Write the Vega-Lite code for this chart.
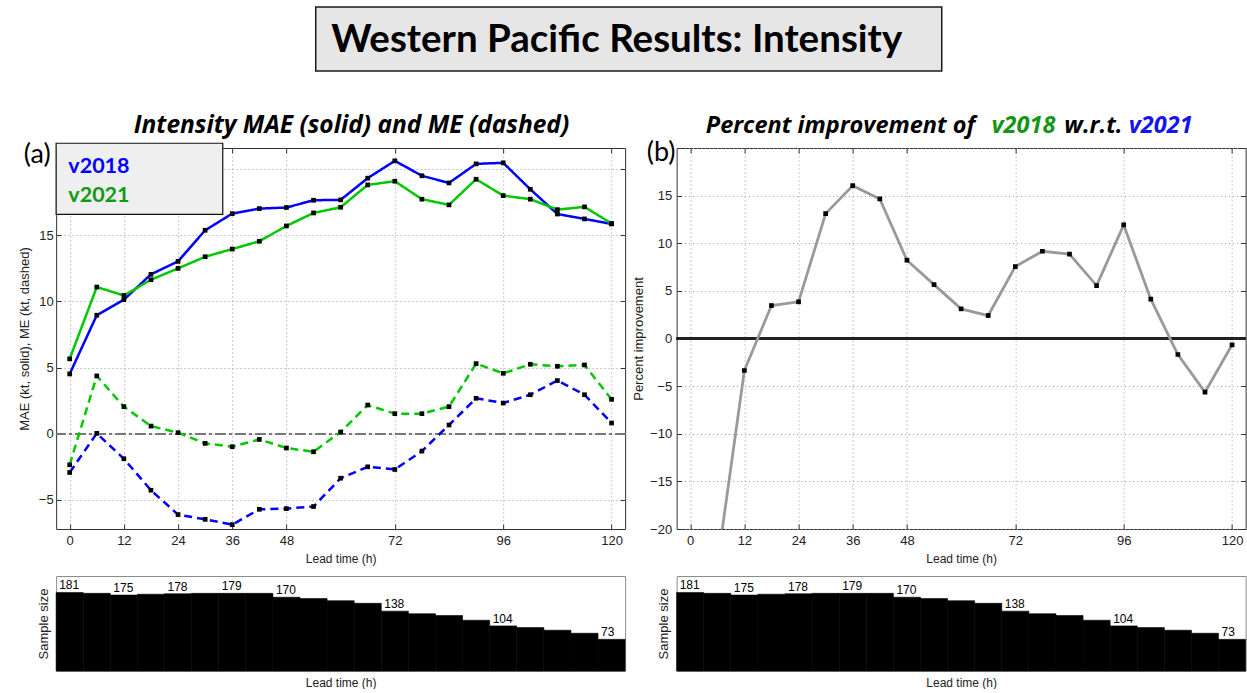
{
  "$schema": "https://vega.github.io/schema/vega-lite/v6.json",
  "background": "white",
  "padding": {"left": 17, "top": 6, "right": 0, "bottom": 0},
  "config": {
    "font": "Liberation Sans",
    "view": {"stroke": "#333333", "strokeWidth": 1},
    "axis": {
      "labelFont": "Liberation Sans", "titleFont": "Liberation Sans",
      "labelColor": "#222222", "titleColor": "#222222", "titleFontWeight": "normal",
      "labelFontSize": 13, "titleFontSize": 13, "domain": false,
      "tickColor": "#333333", "gridColor": "#9a9a9a", "gridDash": [1, 3], "gridWidth": 1
    }
  },
  "datasets": {
    "err": [
      {"lead": 0, "version": "v2018", "metric": "MAE", "value": 4.52},
      {"lead": 6, "version": "v2018", "metric": "MAE", "value": 8.96},
      {"lead": 12, "version": "v2018", "metric": "MAE", "value": 10.13},
      {"lead": 18, "version": "v2018", "metric": "MAE", "value": 12.05},
      {"lead": 24, "version": "v2018", "metric": "MAE", "value": 13.03},
      {"lead": 30, "version": "v2018", "metric": "MAE", "value": 15.38},
      {"lead": 36, "version": "v2018", "metric": "MAE", "value": 16.64},
      {"lead": 42, "version": "v2018", "metric": "MAE", "value": 17.02},
      {"lead": 48, "version": "v2018", "metric": "MAE", "value": 17.10},
      {"lead": 54, "version": "v2018", "metric": "MAE", "value": 17.65},
      {"lead": 60, "version": "v2018", "metric": "MAE", "value": 17.68},
      {"lead": 66, "version": "v2018", "metric": "MAE", "value": 19.32},
      {"lead": 72, "version": "v2018", "metric": "MAE", "value": 20.63},
      {"lead": 78, "version": "v2018", "metric": "MAE", "value": 19.50},
      {"lead": 84, "version": "v2018", "metric": "MAE", "value": 18.96},
      {"lead": 90, "version": "v2018", "metric": "MAE", "value": 20.40},
      {"lead": 96, "version": "v2018", "metric": "MAE", "value": 20.48},
      {"lead": 102, "version": "v2018", "metric": "MAE", "value": 18.48},
      {"lead": 108, "version": "v2018", "metric": "MAE", "value": 16.61},
      {"lead": 114, "version": "v2018", "metric": "MAE", "value": 16.24},
      {"lead": 120, "version": "v2018", "metric": "MAE", "value": 15.86},
      {"lead": 0, "version": "v2021", "metric": "MAE", "value": 5.66},
      {"lead": 6, "version": "v2021", "metric": "MAE", "value": 11.09},
      {"lead": 12, "version": "v2021", "metric": "MAE", "value": 10.45},
      {"lead": 18, "version": "v2021", "metric": "MAE", "value": 11.64},
      {"lead": 24, "version": "v2021", "metric": "MAE", "value": 12.50},
      {"lead": 30, "version": "v2021", "metric": "MAE", "value": 13.38},
      {"lead": 36, "version": "v2021", "metric": "MAE", "value": 13.96},
      {"lead": 42, "version": "v2021", "metric": "MAE", "value": 14.55},
      {"lead": 48, "version": "v2021", "metric": "MAE", "value": 15.71},
      {"lead": 54, "version": "v2021", "metric": "MAE", "value": 16.69},
      {"lead": 60, "version": "v2021", "metric": "MAE", "value": 17.12},
      {"lead": 66, "version": "v2021", "metric": "MAE", "value": 18.81},
      {"lead": 72, "version": "v2021", "metric": "MAE", "value": 19.09},
      {"lead": 78, "version": "v2021", "metric": "MAE", "value": 17.73},
      {"lead": 84, "version": "v2021", "metric": "MAE", "value": 17.30},
      {"lead": 90, "version": "v2021", "metric": "MAE", "value": 19.24},
      {"lead": 96, "version": "v2021", "metric": "MAE", "value": 18.00},
      {"lead": 102, "version": "v2021", "metric": "MAE", "value": 17.73},
      {"lead": 108, "version": "v2021", "metric": "MAE", "value": 16.94},
      {"lead": 114, "version": "v2021", "metric": "MAE", "value": 17.15},
      {"lead": 120, "version": "v2021", "metric": "MAE", "value": 15.89},
      {"lead": 0, "version": "v2018", "metric": "ME", "value": -2.93},
      {"lead": 6, "version": "v2018", "metric": "ME", "value": 0.03},
      {"lead": 12, "version": "v2018", "metric": "ME", "value": -1.89},
      {"lead": 18, "version": "v2018", "metric": "ME", "value": -4.27},
      {"lead": 24, "version": "v2018", "metric": "ME", "value": -6.11},
      {"lead": 30, "version": "v2018", "metric": "ME", "value": -6.47},
      {"lead": 36, "version": "v2018", "metric": "ME", "value": -6.87},
      {"lead": 42, "version": "v2018", "metric": "ME", "value": -5.71},
      {"lead": 48, "version": "v2018", "metric": "ME", "value": -5.66},
      {"lead": 54, "version": "v2018", "metric": "ME", "value": -5.50},
      {"lead": 60, "version": "v2018", "metric": "ME", "value": -3.36},
      {"lead": 66, "version": "v2018", "metric": "ME", "value": -2.50},
      {"lead": 72, "version": "v2018", "metric": "ME", "value": -2.70},
      {"lead": 78, "version": "v2018", "metric": "ME", "value": -1.31},
      {"lead": 84, "version": "v2018", "metric": "ME", "value": 0.66},
      {"lead": 90, "version": "v2018", "metric": "ME", "value": 2.68},
      {"lead": 96, "version": "v2018", "metric": "ME", "value": 2.32},
      {"lead": 102, "version": "v2018", "metric": "ME", "value": 2.95},
      {"lead": 108, "version": "v2018", "metric": "ME", "value": 4.02},
      {"lead": 114, "version": "v2018", "metric": "ME", "value": 2.95},
      {"lead": 120, "version": "v2018", "metric": "ME", "value": 0.81},
      {"lead": 0, "version": "v2021", "metric": "ME", "value": -2.35},
      {"lead": 6, "version": "v2021", "metric": "ME", "value": 4.37},
      {"lead": 12, "version": "v2021", "metric": "ME", "value": 2.05},
      {"lead": 18, "version": "v2021", "metric": "ME", "value": 0.58},
      {"lead": 24, "version": "v2021", "metric": "ME", "value": 0.08},
      {"lead": 30, "version": "v2021", "metric": "ME", "value": -0.73},
      {"lead": 36, "version": "v2021", "metric": "ME", "value": -0.98},
      {"lead": 42, "version": "v2021", "metric": "ME", "value": -0.43},
      {"lead": 48, "version": "v2021", "metric": "ME", "value": -1.08},
      {"lead": 54, "version": "v2021", "metric": "ME", "value": -1.36},
      {"lead": 60, "version": "v2021", "metric": "ME", "value": 0.13},
      {"lead": 66, "version": "v2021", "metric": "ME", "value": 2.17},
      {"lead": 72, "version": "v2021", "metric": "ME", "value": 1.52},
      {"lead": 78, "version": "v2021", "metric": "ME", "value": 1.52},
      {"lead": 84, "version": "v2021", "metric": "ME", "value": 2.05},
      {"lead": 90, "version": "v2021", "metric": "ME", "value": 5.30},
      {"lead": 96, "version": "v2021", "metric": "ME", "value": 4.57},
      {"lead": 102, "version": "v2021", "metric": "ME", "value": 5.25},
      {"lead": 108, "version": "v2021", "metric": "ME", "value": 5.10},
      {"lead": 114, "version": "v2021", "metric": "ME", "value": 5.20},
      {"lead": 120, "version": "v2021", "metric": "ME", "value": 2.60}
    ],
    "pct": [
      {"lead": 0, "pct": -25.2}, {"lead": 6, "pct": -23.8}, {"lead": 12, "pct": -3.36},
      {"lead": 18, "pct": 3.46}, {"lead": 24, "pct": 3.85}, {"lead": 30, "pct": 13.11},
      {"lead": 36, "pct": 16.05}, {"lead": 42, "pct": 14.65}, {"lead": 48, "pct": 8.22},
      {"lead": 54, "pct": 5.66}, {"lead": 60, "pct": 3.11}, {"lead": 66, "pct": 2.41},
      {"lead": 72, "pct": 7.55}, {"lead": 78, "pct": 9.16}, {"lead": 84, "pct": 8.85},
      {"lead": 90, "pct": 5.56}, {"lead": 96, "pct": 11.92}, {"lead": 102, "pct": 4.13},
      {"lead": 108, "pct": -1.68}, {"lead": 114, "pct": -5.63}, {"lead": 120, "pct": -0.66}
    ],
    "n": [
      {"lead": 0, "n": 181}, {"lead": 6, "n": 179}, {"lead": 12, "n": 175},
      {"lead": 18, "n": 177}, {"lead": 24, "n": 178}, {"lead": 30, "n": 179},
      {"lead": 36, "n": 179}, {"lead": 42, "n": 179}, {"lead": 48, "n": 170},
      {"lead": 54, "n": 167}, {"lead": 60, "n": 162}, {"lead": 66, "n": 156},
      {"lead": 72, "n": 138}, {"lead": 78, "n": 132}, {"lead": 84, "n": 128},
      {"lead": 90, "n": 117}, {"lead": 96, "n": 104}, {"lead": 102, "n": 100},
      {"lead": 108, "n": 94}, {"lead": 114, "n": 87}, {"lead": 120, "n": 73}
    ]
  },
  "center": true,
  "spacing": 40,
  "resolve": {"scale": {"color": "independent", "strokeDash": "independent"}},
  "vconcat": [
    {
      "width": 626, "height": 64,
      "view": {"fill": "#e6e6e6", "stroke": "#1a1a1a", "strokeWidth": 1.5},
      "data": {"values": [{"title": "Western Pacific Results: Intensity"}]},
      "layer": [
        {
          "mark": {"type": "text", "font": "Lato", "fontWeight": "bold", "fontSize": 38.5, "color": "black", "align": "center", "baseline": "middle", "dx": -12, "dy": 1},
          "encoding": {"text": {"field": "title"}}
        },
        {
          "mark": {"type": "text", "align": "left", "dx": 355, "opacity": 0, "fontSize": 10},
          "encoding": {"text": {"value": "."}}
        }
      ]
    },
    {
      "columns": 2,
      "bounds": "flush",
      "spacing": {"row": 47, "column": 51.5},
      "resolve": {"scale": {"color": "independent", "strokeDash": "independent"}},
      "concat": [
        {
          "width": 569, "height": 381,
          "data": {"name": "err"},
          "resolve": {"axis": {"x": "independent", "y": "independent"}},
          "layer": [
            {
              "mark": {"type": "rule", "color": "#777777", "strokeDash": [10, 4, 2, 4], "strokeWidth": 1},
              "encoding": {"y": {"datum": 0, "type": "quantitative", "scale": {"domain": [-7.2, 21.6], "nice": false, "zero": false}, "axis": null}}
            },
            {
              "mark": {"type": "line", "strokeWidth": 2.5},
              "encoding": {
                "x": {"field": "lead", "type": "quantitative", "scale": {"domain": [-3, 123], "nice": false, "zero": false},
                      "axis": {"values": [0, 12, 24, 36, 48, 72, 96, 120], "title": "Lead time (h)", "titleFontSize": 12, "grid": true, "tickSize": -5, "labelPadding": 10.5, "titlePadding": 6}},
                "y": {"field": "value", "type": "quantitative", "scale": {"domain": [-7.2, 21.6], "nice": false, "zero": false},
                      "axis": {"values": [-5, 0, 5, 10, 15, 20], "labelExpr": "datum.value == 20 ? '' : datum.label", "title": "MAE (kt, solid), ME (kt, dashed)", "grid": true, "tickSize": -5, "labelPadding": 8, "titlePadding": 7}},
                "color": {"field": "version", "type": "nominal", "scale": {"domain": ["v2018", "v2021"], "range": ["#0000ff", "#00c800"]}, "legend": null},
                "strokeDash": {"field": "metric", "type": "nominal", "scale": {"domain": ["MAE", "ME"], "range": [[1, 0], [8, 5]]}, "legend": null}
              }
            },
            {
              "mark": {"type": "point", "shape": "square", "filled": true, "color": "black", "size": 22, "opacity": 1},
              "encoding": {
                "x": {"field": "lead", "type": "quantitative", "scale": {"domain": [-3, 123], "nice": false, "zero": false},
                      "axis": {"orient": "top", "values": [0, 12, 24, 36, 48, 72, 96, 120], "labels": false, "title": null, "grid": false, "tickSize": -5}},
                "y": {"field": "value", "type": "quantitative", "scale": {"domain": [-7.2, 21.6], "nice": false, "zero": false},
                      "axis": {"orient": "right", "values": [-5, 0, 5, 10, 15, 20], "labels": false, "title": null, "grid": false, "tickSize": -5}}
              }
            },
            {
              "data": {"values": [{"box": "legend"}]},
              "mark": {"type": "rect", "fill": "#efefef", "stroke": "#111111", "strokeWidth": 1.2},
              "encoding": {
                "x": {"datum": -3, "type": "quantitative", "scale": {"domain": [-3, 123], "nice": false, "zero": false}, "axis": null},
                "x2": {"datum": 33.9},
                "y": {"datum": 21.96, "type": "quantitative", "scale": {"domain": [-7.2, 21.6], "nice": false, "zero": false}, "axis": null},
                "y2": {"datum": 16.59}
              }
            },
            {
              "data": {"values": [{"t": "v2018"}]},
              "mark": {"type": "text", "font": "Lato", "fontSize": 21.5, "fontWeight": "bold", "color": "#0000ff", "align": "left", "baseline": "alphabetic"},
              "encoding": {
                "text": {"field": "t"},
                "x": {"datum": -0.3, "type": "quantitative", "scale": {"domain": [-3, 123], "nice": false, "zero": false}, "axis": null},
                "y": {"datum": 19.73, "type": "quantitative", "scale": {"domain": [-7.2, 21.6], "nice": false, "zero": false}, "axis": null}
              }
            },
            {
              "data": {"values": [{"t": "v2021"}]},
              "mark": {"type": "text", "font": "Lato", "fontSize": 21.5, "fontWeight": "bold", "color": "#119911", "align": "left", "baseline": "alphabetic"},
              "encoding": {
                "text": {"field": "t"},
                "x": {"datum": -0.3, "type": "quantitative", "scale": {"domain": [-3, 123], "nice": false, "zero": false}, "axis": null},
                "y": {"datum": 17.54, "type": "quantitative", "scale": {"domain": [-7.2, 21.6], "nice": false, "zero": false}, "axis": null}
              }
            },
            {
              "data": {"values": [{"t": "(a)"}]},
              "mark": {"type": "text", "font": "Lato", "fontSize": 27, "color": "black", "align": "center", "baseline": "middle"},
              "encoding": {
                "text": {"field": "t"},
                "x": {"datum": -7.2, "type": "quantitative", "scale": {"domain": [-3, 123], "nice": false, "zero": false}, "axis": null},
                "y": {"datum": 21.07, "type": "quantitative", "scale": {"domain": [-7.2, 21.6], "nice": false, "zero": false}, "axis": null}
              }
            },
            {
              "data": {"values": [{"t": "Intensity MAE (solid) and ME (dashed)"}]},
              "mark": {"type": "text", "font": "Open Sans", "fontSize": 24.5, "fontStyle": "italic", "fontWeight": "bold", "color": "black", "align": "center", "baseline": "alphabetic"},
              "encoding": {
                "text": {"field": "t"},
                "x": {"datum": 62.4, "type": "quantitative", "scale": {"domain": [-3, 123], "nice": false, "zero": false}, "axis": null},
                "y": {"datum": 22.76, "type": "quantitative", "scale": {"domain": [-7.2, 21.6], "nice": false, "zero": false}, "axis": null}
              }
            }
          ]
        },
        {
          "width": 569, "height": 381,
          "data": {"name": "pct"},
          "resolve": {"axis": {"x": "independent", "y": "independent"}},
          "layer": [
            {
              "mark": {"type": "rule", "color": "#222222", "strokeWidth": 1.5},
              "encoding": {"y": {"datum": 0, "type": "quantitative", "scale": {"domain": [-20, 20], "nice": false, "zero": false}, "axis": null}}
            },
            {
              "mark": {"type": "line", "color": "#999999", "strokeWidth": 2.8, "clip": true},
              "encoding": {
                "x": {"field": "lead", "type": "quantitative", "scale": {"domain": [-3, 123], "nice": false, "zero": false},
                      "axis": {"values": [0, 12, 24, 36, 48, 72, 96, 120], "title": "Lead time (h)", "titleFontSize": 12, "grid": true, "tickSize": -5, "labelPadding": 10.5, "titlePadding": 6}},
                "y": {"field": "pct", "type": "quantitative", "scale": {"domain": [-20, 20], "nice": false, "zero": false},
                      "axis": {"values": [-20, -15, -10, -5, 0, 5, 10, 15, 20], "labelExpr": "datum.value == 20 ? '' : datum.label", "title": "Percent improvement", "grid": true, "tickSize": -5, "labelPadding": 10, "titlePadding": 4}}
              }
            },
            {
              "mark": {"type": "point", "shape": "square", "filled": true, "color": "black", "size": 22, "opacity": 1, "clip": true},
              "encoding": {
                "x": {"field": "lead", "type": "quantitative", "scale": {"domain": [-3, 123], "nice": false, "zero": false},
                      "axis": {"orient": "top", "values": [0, 12, 24, 36, 48, 72, 96, 120], "labels": false, "title": null, "grid": false, "tickSize": -5}},
                "y": {"field": "pct", "type": "quantitative", "scale": {"domain": [-20, 20], "nice": false, "zero": false},
                      "axis": {"orient": "right", "values": [-20, -15, -10, -5, 0, 5, 10, 15, 20], "labels": false, "title": null, "grid": false, "tickSize": -5}}
              }
            },
            {
              "data": {"values": [{"t": "(b)"}]},
              "mark": {"type": "text", "font": "Lato", "fontSize": 27, "color": "black", "align": "center", "baseline": "middle"},
              "encoding": {
                "text": {"field": "t"},
                "x": {"datum": -6.43, "type": "quantitative", "scale": {"domain": [-3, 123], "nice": false, "zero": false}, "axis": null},
                "y": {"datum": 19.5, "type": "quantitative", "scale": {"domain": [-20, 20], "nice": false, "zero": false}, "axis": null}
              }
            },
            {
              "data": {"values": [{"t": "Percent improvement of"}]},
              "mark": {"type": "text", "font": "Open Sans", "fontSize": 23.5, "fontStyle": "italic", "fontWeight": "bold", "color": "black", "align": "center", "baseline": "alphabetic"},
              "encoding": {
                "text": {"field": "t"},
                "x": {"datum": 33.3, "type": "quantitative", "scale": {"domain": [-3, 123], "nice": false, "zero": false}, "axis": null},
                "y": {"datum": 21.57, "type": "quantitative", "scale": {"domain": [-20, 20], "nice": false, "zero": false}, "axis": null}
              }
            },
            {
              "data": {"values": [{"t": "v2018"}]},
              "mark": {"type": "text", "font": "Open Sans", "fontSize": 23.5, "fontStyle": "italic", "fontWeight": "bold", "color": "#149614", "align": "center", "baseline": "alphabetic"},
              "encoding": {
                "text": {"field": "t"},
                "x": {"datum": 73.8, "type": "quantitative", "scale": {"domain": [-3, 123], "nice": false, "zero": false}, "axis": null},
                "y": {"datum": 21.57, "type": "quantitative", "scale": {"domain": [-20, 20], "nice": false, "zero": false}, "axis": null}
              }
            },
            {
              "data": {"values": [{"t": "w.r.t."}]},
              "mark": {"type": "text", "font": "Open Sans", "fontSize": 23.5, "fontStyle": "italic", "fontWeight": "bold", "color": "black", "align": "center", "baseline": "alphabetic"},
              "encoding": {
                "text": {"field": "t"},
                "x": {"datum": 89.3, "type": "quantitative", "scale": {"domain": [-3, 123], "nice": false, "zero": false}, "axis": null},
                "y": {"datum": 21.57, "type": "quantitative", "scale": {"domain": [-20, 20], "nice": false, "zero": false}, "axis": null}
              }
            },
            {
              "data": {"values": [{"t": "v2021"}]},
              "mark": {"type": "text", "font": "Open Sans", "fontSize": 23.5, "fontStyle": "italic", "fontWeight": "bold", "color": "#1414f0", "align": "center", "baseline": "alphabetic"},
              "encoding": {
                "text": {"field": "t"},
                "x": {"datum": 104.2, "type": "quantitative", "scale": {"domain": [-3, 123], "nice": false, "zero": false}, "axis": null},
                "y": {"datum": 21.57, "type": "quantitative", "scale": {"domain": [-20, 20], "nice": false, "zero": false}, "axis": null}
              }
            }
          ]
        },
        {
          "width": 569, "height": 95,
          "view": {"stroke": "#8c8c8c"},
          "data": {"name": "n"},
          "layer": [
            {
              "mark": {"type": "bar", "color": "black", "stroke": "black", "strokeWidth": 0.6},
              "encoding": {
                "x": {"field": "lead", "type": "ordinal", "scale": {"paddingInner": 0, "paddingOuter": 0},
                      "axis": {"labels": false, "ticks": false, "domain": false, "grid": false, "title": "Lead time (h)", "titleFontSize": 12, "titlePadding": 6}},
                "y": {"field": "n", "type": "quantitative", "scale": {"domain": [0, 219], "nice": false},
                      "axis": {"labels": false, "ticks": false, "domain": false, "grid": false, "title": "Sample size", "titlePadding": 6}}
              }
            },
            {
              "transform": [{"filter": {"field": "lead", "oneOf": [0, 12, 24, 36, 48, 72, 96, 120]}}],
              "mark": {"type": "text", "align": "left", "baseline": "alphabetic", "dx": 3, "dy": -3, "fontSize": 12, "color": "black"},
              "encoding": {
                "x": {"field": "lead", "type": "ordinal", "bandPosition": 0},
                "y": {"field": "n", "type": "quantitative"},
                "text": {"field": "n", "type": "quantitative"}
              }
            }
          ]
        },
        {
          "width": 569, "height": 95,
          "view": {"stroke": "#8c8c8c"},
          "data": {"name": "n"},
          "layer": [
            {
              "mark": {"type": "bar", "color": "black", "stroke": "black", "strokeWidth": 0.6},
              "encoding": {
                "x": {"field": "lead", "type": "ordinal", "scale": {"paddingInner": 0, "paddingOuter": 0},
                      "axis": {"labels": false, "ticks": false, "domain": false, "grid": false, "title": "Lead time (h)", "titleFontSize": 12, "titlePadding": 6}},
                "y": {"field": "n", "type": "quantitative", "scale": {"domain": [0, 219], "nice": false},
                      "axis": {"labels": false, "ticks": false, "domain": false, "grid": false, "title": "Sample size", "titlePadding": 6}}
              }
            },
            {
              "transform": [{"filter": {"field": "lead", "oneOf": [0, 12, 24, 36, 48, 72, 96, 120]}}],
              "mark": {"type": "text", "align": "left", "baseline": "alphabetic", "dx": 3, "dy": -3, "fontSize": 12, "color": "black"},
              "encoding": {
                "x": {"field": "lead", "type": "ordinal", "bandPosition": 0},
                "y": {"field": "n", "type": "quantitative"},
                "text": {"field": "n", "type": "quantitative"}
              }
            }
          ]
        }
      ]
    }
  ]
}
